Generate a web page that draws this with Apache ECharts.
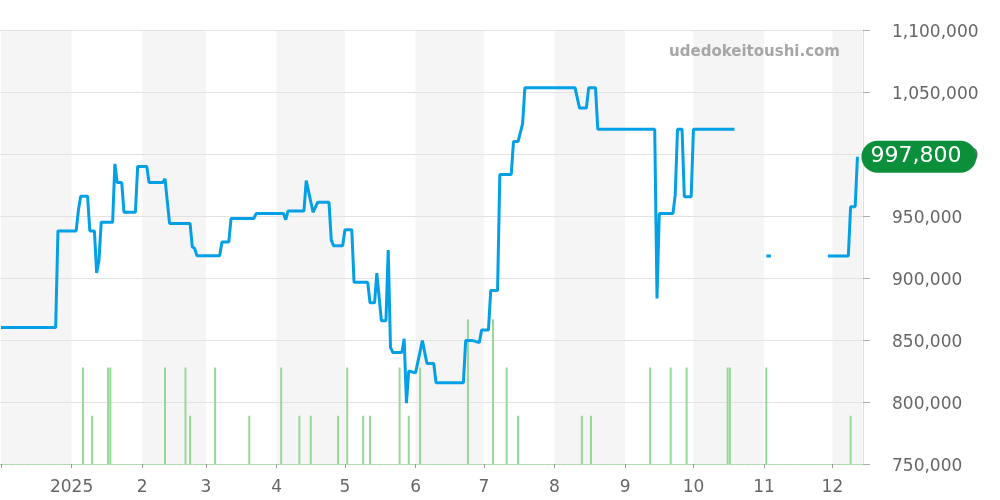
<!DOCTYPE html>
<html>
<head>
<meta charset="utf-8">
<script src="https://cdn.jsdelivr.net/npm/echarts@6/dist/echarts.min.js"></script>
<style>
  html, body { margin: 0; padding: 0; background: #fff; }
  #chart { width: 1000px; height: 500px; }
</style>
</head>
<body>
<div id="chart"></div>
<script>
// price line: dates and values (null = no quote)
const priceDates = [
  '2024-12-01', '2024-12-25', '2024-12-26', '2025-01-03', '2025-01-04', '2025-01-05',
  '2025-01-08', '2025-01-09', '2025-01-11', '2025-01-12', '2025-01-13', '2025-01-14',
  '2025-01-19', '2025-01-20', '2025-01-21', '2025-01-23', '2025-01-24', '2025-01-29',
  '2025-01-30', '2025-02-03', '2025-02-04', '2025-02-10', '2025-02-11', '2025-02-12',
  '2025-02-13', '2025-02-22', '2025-02-23', '2025-02-24', '2025-02-25', '2025-03-07',
  '2025-03-08', '2025-03-11', '2025-03-12', '2025-03-22', '2025-03-23', '2025-04-04',
  '2025-04-05', '2025-04-06', '2025-04-13', '2025-04-14', '2025-04-17', '2025-04-19',
  '2025-04-24', '2025-04-25', '2025-04-26', '2025-04-30', '2025-05-01', '2025-05-04',
  '2025-05-05', '2025-05-11', '2025-05-12', '2025-05-14', '2025-05-15', '2025-05-17',
  '2025-05-19', '2025-05-20', '2025-05-21', '2025-05-22', '2025-05-26', '2025-05-27',
  '2025-05-28', '2025-05-29', '2025-06-01', '2025-06-04', '2025-06-06', '2025-06-09',
  '2025-06-10', '2025-06-22', '2025-06-23', '2025-06-26', '2025-06-29', '2025-06-30',
  '2025-07-03', '2025-07-04', '2025-07-07', '2025-07-08', '2025-07-13', '2025-07-14',
  '2025-07-16', '2025-07-18', '2025-07-19', '2025-08-10', '2025-08-12', '2025-08-15',
  '2025-08-16', '2025-08-19', '2025-08-20', '2025-09-14', '2025-09-15', '2025-09-16',
  '2025-09-22', '2025-09-23', '2025-09-24', '2025-09-26', '2025-09-27', '2025-09-30',
  '2025-10-01', '2025-10-19', '2025-10-20', '2025-11-02', '2025-11-04', '2025-11-05',
  '2025-11-29', '2025-12-08', '2025-12-09', '2025-12-11', '2025-12-12'
];
const priceValues = [
  860000, 860000, 938000, 938000, 955000, 966000,
  966000, 938000, 938000, 904000, 914000, 945000,
  945000, 992000, 977000, 977000, 953000, 953000,
  990000, 990000, 977000, 977000, 980000, 962000,
  944000, 944000, 925000, 924000, 918000, 918000,
  929000, 929000, 948000, 948000, 952000, 952000,
  947000, 954000, 954000, 978500, 953000, 961000,
  961000, 930500, 926000, 926000, 939000, 939000,
  896500, 896500, 880000, 880000, 904000, 865500,
  865500, 922500, 844000, 840000, 840000, 851000,
  799000, 825000, 823500, 849500, 831000, 831000,
  815500, 815500, 849500, 849500, 848000, 858000,
  858000, 890000, 890000, 983500, 983500, 1010000,
  1010000, 1024500, 1053500, 1053500, 1037000, 1037000,
  1053500, 1053500, 1020000, 1020000, 883500, 952000,
  952000, 967000, 1020000, 1020000, 965500, 965500,
  1020000, 1020000, null, 917700, 917700, null,
  917700, 917700, 957500, 957500, 997800
];

// trade counts (green bars)
const volumeDates = [
  '2025-01-06', '2025-01-10', '2025-01-17', '2025-01-18', '2025-02-11', '2025-02-20',
  '2025-02-22', '2025-03-05', '2025-03-20', '2025-04-03', '2025-04-11', '2025-04-16',
  '2025-04-28', '2025-05-02', '2025-05-09', '2025-05-12', '2025-05-25', '2025-05-29',
  '2025-06-03', '2025-06-24', '2025-07-05', '2025-07-11', '2025-07-16', '2025-08-13',
  '2025-08-17', '2025-09-12', '2025-09-21', '2025-09-28', '2025-10-16', '2025-10-17',
  '2025-11-02', '2025-12-09'
];
const volumeValues = [
  2, 1, 2, 2, 2, 2,
  1, 2, 1, 2, 1, 1,
  1, 2, 1, 1, 2, 1,
  2, 3, 3, 2, 1, 1,
  1, 2, 2, 2, 2, 2,
  2, 1
];

// shaded month bands
const shadedMonths = [
  ['2024-12-01', '2025-01-01'],
  ['2025-02-01', '2025-03-01'],
  ['2025-04-01', '2025-05-01'],
  ['2025-06-01', '2025-07-01'],
  ['2025-08-01', '2025-09-01'],
  ['2025-10-01', '2025-11-01'],
  ['2025-12-01', '2025-12-14']
];

const chart = echarts.init(document.getElementById('chart'));
const DAY = 86400000;

const option = {
  animation: false,
  textStyle: { fontFamily: 'DejaVu Sans' },
  grid: { left: 0, right: 137, top: 30, bottom: 36, containLabel: false, outerBoundsMode: 'none' },
  graphic: [
    {
      type: 'text',
      right: 160,
      top: 45,
      style: {
        text: 'udedokeitoushi.com',
        fill: '#a6a6a6',
        font: 'bold 15px "DejaVu Sans"'
      },
      z: 10
    }
  ],
  xAxis: {
    type: 'time',
    min: '2024-12-01',
    max: '2025-12-14',
    minInterval: 28 * DAY,
    maxInterval: 31 * DAY,
    splitLine: { show: false },
    axisLine: { lineStyle: { color: '#a3d9a3', type: [1, 1.3], width: 1 } },
    axisTick: { show: true, length: 4, lineStyle: { color: '#999' } },
    axisLabel: {
      color: '#666',
      fontSize: 17,
      margin: 15,
      formatter: function (val) {
        const d = new Date(val);
        if (d.getFullYear() < 2025) return '';
        return d.getMonth() === 0 ? String(d.getFullYear()) : String(d.getMonth() + 1);
      }
    }
  },
  yAxis: [
    {
      type: 'value',
      position: 'right',
      min: 750000,
      max: 1100000,
      interval: 50000,
      axisLine: { show: true, lineStyle: { color: '#ddd' } },
      axisTick: { show: true, length: 7, lineStyle: { color: '#aaa' } },
      splitLine: { lineStyle: { color: '#e2e2e2' } },
      axisLabel: {
        color: '#666',
        fontSize: 17,
        margin: 29,
        verticalAlign: 'top',
        lineHeight: 6,
        formatter: function (v) { return v.toLocaleString('en-US'); }
      }
    },
    {
      type: 'value',
      min: 0,
      max: 9,
      show: false,
      splitLine: { show: false }
    }
  ],
  series: [
    {
      name: 'volume',
      type: 'bar',
      yAxisIndex: 1,
      barWidth: 2,
      itemStyle: { color: '#97d797' },
      data: volumeDates.map((d, i) => [d, volumeValues[i]])
    },
    {
      name: 'price',
      type: 'line',
      symbol: 'none',
      connectNulls: false,
      lineStyle: { color: '#03a0e6', width: 3 },
      itemStyle: { color: '#03a0e6' },
      z: 3,
      data: priceDates.map((d, i) => [d, priceValues[i]]),
      endLabel: {
        show: true,
        distance: 4,
        formatter: function (p) { return p.value[1].toLocaleString('en-US'); },
        color: '#fff',
        fontSize: 22,
        backgroundColor: '#0b8f3a',
        borderRadius: 16,
        padding: [5, 15, 5, 9]
      },
      markArea: {
        silent: true,
        z: -1,
        itemStyle: { color: '#f5f5f5' },
        data: shadedMonths.map(r => [{ xAxis: r[0] }, { xAxis: r[1] }])
      }
    }
  ]
};

chart.setOption(option);
</script>
</body>
</html>
